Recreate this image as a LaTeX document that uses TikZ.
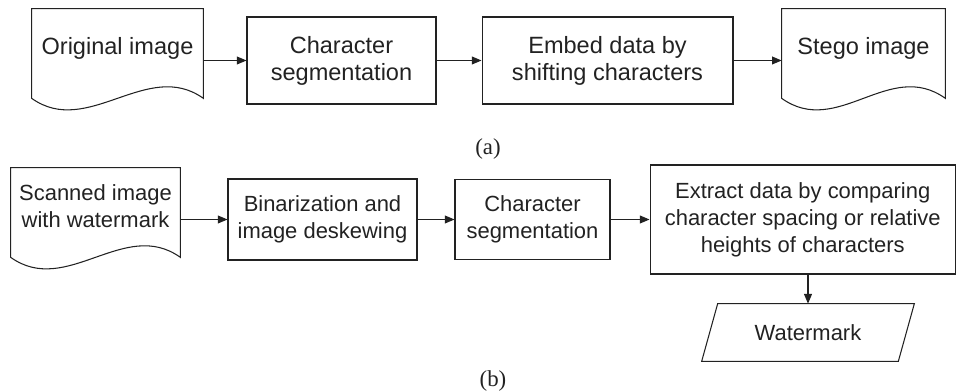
\documentclass[tikz,border=0pt]{standalone}
\usepackage{fontspec}
\setmainfont{Liberation Serif}
\setsansfont{Liberation Sans}
\usetikzlibrary{arrows.meta,calc}
\definecolor{ink}{HTML}{222222}
\newcommand\mydocoutline[1]{\draw[line] (#1.north west) -- (#1.north east) -- (#1.south east) .. controls +(-56,-40) and +(56,40) .. (#1.south west) -- cycle;}
\begin{document}
\begin{tikzpicture}[x=0.02cm,y=-0.02cm,
 line/.style={draw=ink,line width=0.6pt},
 fa/.style={font=\sffamily\fontsize{13.4}{15.4}\selectfont, text=ink},
 fb/.style={font=\sffamily\fontsize{12.5}{15.4}\selectfont, text=ink},
 box/.style={line, rectangle, inner sep=0pt, align=center, fa},
 boxb/.style={box, fb},
 docarea/.style={rectangle, inner sep=0pt},
 txta/.style={align=center, inner sep=0pt, fa},
 txtb/.style={align=center, inner sep=0pt, fb},
 arr/.style={line, -{Triangle[length=5.5pt,width=4.5pt]}},
 capt/.style={font=\fontsize{13}{15}\selectfont, text=ink}
]
\useasboundingbox (0,0) rectangle (957,391);
% (a)
\node[docarea, minimum width=3.42cm, minimum height=1.78cm] (orig) at (117.5,53.5) {};
\node[txta] (origt) at (117.5,48) {Original image};
\node[box, minimum width=3.78cm, minimum height=1.74cm] (cs1) at (341.5,60.5) {Character\\segmentation};
\node[box, minimum width=5.02cm, minimum height=1.74cm] (emb) at (607.5,60.5) {Embed data by\\shifting characters};
\node[docarea, minimum width=3.26cm, minimum height=1.78cm] (stego) at (863.5,53.5) {};
\node[txta] (stegot) at (863.5,48) {Stego image};
\mydocoutline{orig}
\mydocoutline{stego}
\draw[arr] (orig.east |- cs1.west) -- (cs1.west);
\draw[arr] (cs1.east) -- (emb.west);
\draw[arr] (emb.east) -- (stego.west |- emb.east);
\node[capt] (la) at (488,149) {(a)};
% (b)
\node[docarea, minimum width=3.38cm, minimum height=1.78cm] (scan) at (95.5,212.5) {};
\node[txtb] (scant) at (95.5,206.5) {Scanned image\\with watermark};
\mydocoutline{scan}
\node[boxb, minimum width=3.78cm, minimum height=1.62cm] (bin) at (322.5,219.5) {Binarization and\\image deskewing};
\node[boxb, minimum width=3.1cm, minimum height=1.6cm] (cs2) at (532.5,219.5) {Character\\segmentation};
\node[boxb, minimum width=6.11cm, minimum height=2.18cm] (ext) at (802.75,219.5) {Extract data by comparing\\character spacing or relative\\heights of characters};
\node[rectangle, inner sep=0pt, minimum width=3.92cm, minimum height=1.14cm, fb] (wm) at (808,332.5) {Watermark};
\draw[line] ($(wm.north west)+(8,0)$) -- ($(wm.north east)+(8,0)$) -- ($(wm.south east)+(-8,0)$) -- ($(wm.south west)+(-8,0)$) -- cycle;
\draw[arr] (scan.east |- bin.west) -- (bin.west);
\draw[arr] (bin.east) -- (cs2.west);
\draw[arr] (cs2.east) -- (ext.west |- cs2.east);
\draw[arr] (ext.south -| wm.north) -- (wm.north);
\node[capt] (lb) at (493,381) {(b)};
\end{tikzpicture}
\end{document}
